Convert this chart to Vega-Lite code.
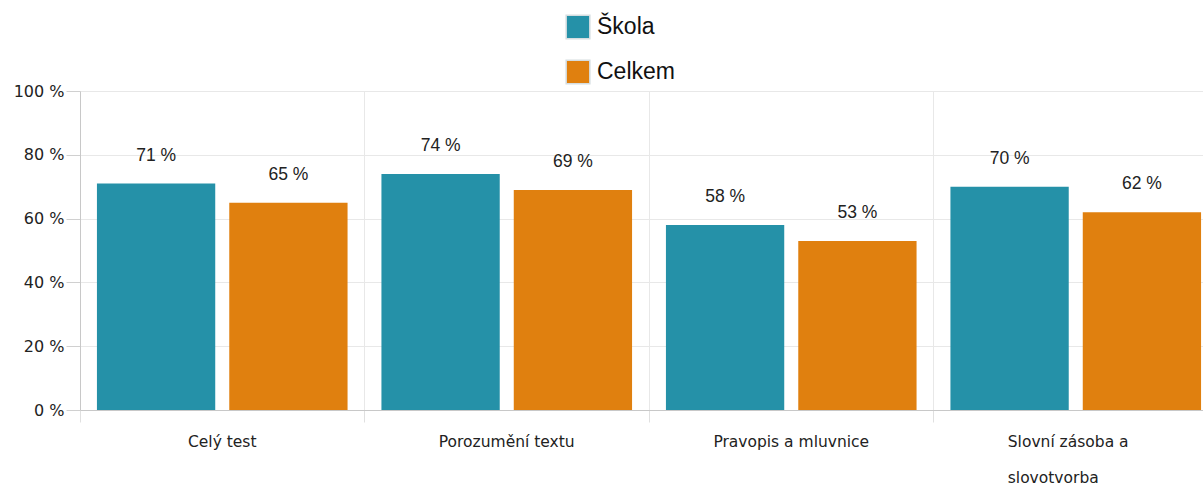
{
  "$schema": "https://vega.github.io/schema/vega-lite/v6.json",
  "width": 1123,
  "height": 319,
  "autosize": {"type": "none"},
  "padding": {"left": 80, "top": 91, "right": 0, "bottom": 78},
  "background": "white",
  "config": {"view": {"stroke": null}},
  "data": {
    "values": [
      {"category": "Celý test", "series": "Škola", "value": 71},
      {"category": "Celý test", "series": "Celkem", "value": 65},
      {"category": "Porozumění textu", "series": "Škola", "value": 74},
      {"category": "Porozumění textu", "series": "Celkem", "value": 69},
      {"category": "Pravopis a mluvnice", "series": "Škola", "value": 58},
      {"category": "Pravopis a mluvnice", "series": "Celkem", "value": 53},
      {"category": "Slovní zásoba a slovotvorba", "series": "Škola", "value": 70},
      {"category": "Slovní zásoba a slovotvorba", "series": "Celkem", "value": 62}
    ]
  },
  "encoding": {
    "x": {
      "field": "category",
      "type": "nominal",
      "sort": null,
      "scale": {"range": [0, 1138], "paddingInner": 0, "paddingOuter": 0},
      "axis": {
        "title": null,
        "labelAngle": 0,
        "bandPosition": 0,
        "grid": true,
        "gridColor": "#e8e8e8",
        "ticks": true,
        "tickSize": 12,
        "tickColor": "#e0e0e0",
        "domainColor": "#c8c8c8",
        "labelFont": "DejaVu Sans",
        "labelFontSize": 15.5,
        "labelColor": "#222222",
        "labelPadding": 12,
        "labelLineHeight": 36,
        "labelBaseline": "top",
        "labelExpr": "datum.label == 'Slovní zásoba a slovotvorba' ? ['Slovní zásoba a', 'slovotvorba'] : datum.label",
        "labelAlign": {"condition": {"test": "datum.label == 'Slovní zásoba a slovotvorba'", "value": "left"}, "value": "center"},
        "labelOffset": {"condition": {"test": "datum.label == 'Slovní zásoba a slovotvorba'", "value": -68}, "value": 0}
      }
    },
    "xOffset": {
      "field": "series",
      "sort": ["Škola", "Celkem"],
      "scale": {"paddingInner": 0.106, "paddingOuter": 0.128}
    },
    "y": {
      "field": "value",
      "type": "quantitative",
      "scale": {"domain": [0, 100]},
      "axis": {
        "title": null,
        "values": [0, 20, 40, 60, 80, 100],
        "labelExpr": "datum.value + ' %'",
        "grid": true,
        "gridColor": "#e8e8e8",
        "domainColor": "#c8c8c8",
        "tickColor": "#d0d0d0",
        "tickSize": 14,
        "labelPadding": 2,
        "labelFont": "DejaVu Sans",
        "labelFontSize": 16,
        "labelColor": "#222222"
      }
    }
  },
  "layer": [
    {
      "mark": {"type": "bar"},
      "encoding": {
        "color": {
          "field": "series",
          "type": "nominal",
          "scale": {"domain": ["Škola", "Celkem"], "range": ["#2591a8", "#e0800f"]},
          "legend": {
            "title": null,
            "orient": "none",
            "legendX": 485,
            "legendY": -77,
            "padding": 0,
            "direction": "vertical",
            "symbolType": "square",
            "symbolSize": 560,
            "symbolStrokeWidth": 1.5,
            "symbolStrokeColor": "#d5dde0",
            "labelFont": "Liberation Sans",
            "labelFontSize": 23,
            "labelColor": "#111111",
            "labelOffset": 6,
            "rowPadding": 15
          }
        }
      }
    },
    {
      "mark": {
        "type": "text",
        "baseline": "bottom",
        "dy": -19,
        "font": "Liberation Sans",
        "fontSize": 17.5,
        "color": "#222222",
        "text": {"expr": "datum.value + ' %'"}
      },
      "encoding": {}
    }
  ]
}
